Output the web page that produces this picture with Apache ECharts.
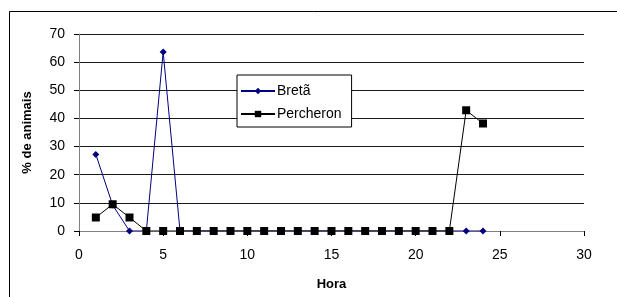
<!DOCTYPE html>
<html><head><meta charset="utf-8">
<script src="https://cdn.jsdelivr.net/npm/echarts@6/dist/echarts.min.js"></script>
<style>html,body{margin:0;padding:0;background:#fff}#c{width:617px;height:297px}</style>
</head><body><div id="c"></div>
<script>
const hours = [1,2,3,4,5,6,7,8,9,10,11,12,13,14,15,16,17,18,19,20,21,22,23,24];
const breta = [27.2,9.2,0,0,63.6,0,0,0,0,0,0,0,0,0,0,0,0,0,0,0,0,0,0,0];
const percheron = [4.8,9.5,4.8,0,0,0,0,0,0,0,0,0,0,0,0,0,0,0,0,0,0,0,42.9,38.2];
const xTicks = [0,5,10,15,20,25,30];
const yTicks = [0,10,20,30,40,50,60,70];

const chart = echarts.init(document.getElementById('c'), null, {renderer:'canvas'});
const font = 'Liberation Sans, Arial, sans-serif';
chart.setOption({
  animation:false,
  backgroundColor:'#fff',
  graphic:[{type:'rect',shape:{x:9.5,y:11.5,width:700,height:400},style:{fill:'none',stroke:'#000',lineWidth:1},z:-1}],
  grid:{left:79,right:33,top:34,bottom:66,containLabel:false},
  legend:{
    orient:'vertical',left:237,top:75,
    data:['Bretã','Percheron'],
    backgroundColor:'#fff',borderColor:'#000',borderWidth:1,
    padding:[9,10,6,3],itemGap:9,itemWidth:34,itemHeight:8,
    textStyle:{fontFamily:font,fontSize:14,color:'#000',padding:[0,0,0,-3]}
  },
  xAxis:{
    type:'value',min:0,max:30,interval:5,
    name:'Hora',nameLocation:'middle',nameGap:47,
    nameTextStyle:{fontFamily:font,fontSize:13,fontWeight:'bold',color:'#000'},
    axisLine:{onZero:false,lineStyle:{color:'#808080',width:1}},
    axisTick:{show:true,inside:false,length:5,lineStyle:{color:'#000'}},
    axisLabel:{fontFamily:font,fontSize:14,color:'#000',margin:17},
    splitLine:{show:false}
  },
  yAxis:{
    type:'value',min:0,max:70,interval:10,
    name:'% de animais',nameLocation:'middle',nameGap:45,nameRotate:90,
    nameTextStyle:{fontFamily:font,fontSize:13,fontWeight:'bold',color:'#000'},
    axisLine:{show:true,lineStyle:{color:'#808080',width:1}},
    axisTick:{show:true,inside:false,length:5,lineStyle:{color:'#000'}},
    axisLabel:{fontFamily:font,fontSize:14,color:'#000',margin:14},
    splitLine:{show:true,lineStyle:{color:'#1a1a1a',width:1}}
  },
  series:[
    {name:'Bretã',type:'line',data:hours.map((h,i)=>[h,breta[i]]),
     symbol:'diamond',symbolSize:7,color:'#000080',
     lineStyle:{color:'#000080',width:1},itemStyle:{color:'#000080'},z:2},
    {name:'Percheron',type:'line',data:hours.map((h,i)=>[h,percheron[i]]),
     symbol:'rect',symbolSize:8,color:'#000',
     lineStyle:{color:'#000',width:1},itemStyle:{color:'#000'},z:3}
  ]
});
</script></body></html>
